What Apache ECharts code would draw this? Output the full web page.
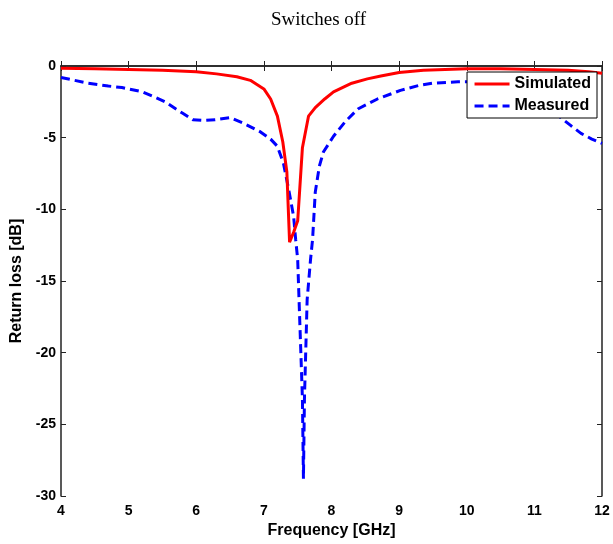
<!DOCTYPE html>
<html>
<head>
<meta charset="utf-8">
<script src="https://cdn.jsdelivr.net/npm/echarts@6/dist/echarts.min.js"></script>
<style>
  html, body { margin: 0; padding: 0; background: #fff; }
  #chart { width: 613px; height: 544px; }
</style>
</head>
<body>
<div id="chart"></div>
<script>
// Return loss of the antenna with the switches off: simulation vs. measurement
const simFreq = [4.0, 4.5, 5.0, 5.5, 6.0, 6.3, 6.6, 6.8, 7.0, 7.1, 7.2, 7.28, 7.34, 7.38, 7.44, 7.5,
  7.57, 7.66, 7.76, 7.9, 8.03, 8.3, 8.53, 8.73, 9.0, 9.36, 10.0, 10.5, 11.0, 11.5, 11.8, 12.0];
const simLoss = [-0.15, -0.2, -0.25, -0.3, -0.4, -0.55, -0.75, -1.0, -1.6, -2.3, -3.5, -5.3, -7.4, -12.3, -11.6, -10.8,
  -5.7, -3.5, -2.9, -2.3, -1.8, -1.2, -0.9, -0.7, -0.45, -0.3, -0.2, -0.2, -0.25, -0.3, -0.4, -0.5];

const measFreq = [4.0, 4.2, 4.4, 4.7, 4.9, 5.2, 5.4, 5.54, 5.7, 5.8, 5.95, 6.1, 6.28, 6.5, 6.7, 6.95,
  7.1, 7.2, 7.29, 7.37, 7.44, 7.47, 7.5, 7.52, 7.57, 7.585, 7.6, 7.64, 7.69, 7.72, 7.76, 7.82,
  7.88, 8.03, 8.2, 8.39, 8.68, 9.02, 9.3, 9.5, 9.87, 10.2, 10.6, 11.0, 11.2, 11.39, 11.55, 11.69,
  11.85, 12.0];
const measLoss = [-0.8, -1.0, -1.2, -1.4, -1.5, -1.8, -2.2, -2.5, -3.0, -3.3, -3.75, -3.8, -3.75, -3.6, -4.0, -4.6,
  -5.1, -5.6, -6.8, -8.7, -10.5, -12.1, -13.5, -16.3, -23.2, -28.8, -23.2, -16.3, -13.5, -12.1, -8.8, -7.0,
  -6.0, -4.9, -3.9, -3.0, -2.3, -1.7, -1.35, -1.2, -1.1, -1.1, -1.3, -2.0, -2.7, -3.6, -4.2, -4.7,
  -5.1, -5.4];

const seriesNames = ['Simulated', 'Measured'];
const xTicks = { min: 4, max: 12, step: 1 };
const yTicks = { min: -30, max: 0, step: 5 };

const pairs = (xs, ys) => xs.map((x, i) => [x, ys[i]]);

const sans = '"Liberation Sans", Arial, Helvetica, sans-serif';
const frame = { show: true, lineStyle: { color: '#222', width: 1.5 } };
const tick = { show: true, inside: true, length: 5, lineStyle: { color: '#222', width: 1 } };

const chart = echarts.init(document.getElementById('chart'), null, { renderer: 'canvas' });

chart.setOption({
  backgroundColor: '#fff',
  animation: false,
  title: {
    text: 'Switches off',
    left: 266,
    top: 6,
    textStyle: { fontFamily: '"Liberation Serif", "Times New Roman", serif', fontSize: 19, fontWeight: 'normal', color: '#000' }
  },
  grid: { left: 61, right: 11, top: 66, bottom: 47, containLabel: false },
  legend: {
    data: seriesNames,
    orient: 'vertical',
    right: 16,
    top: 72,
    itemWidth: 35,
    itemHeight: 14,
    itemGap: 6,
    padding: [4, 6, 4, 6],
    backgroundColor: '#fff',
    borderColor: '#000',
    borderWidth: 1,
    borderRadius: 0,
    // only the line sample is shown, no marker in the middle
    itemStyle: { color: 'rgba(0,0,0,0)', borderColor: 'rgba(0,0,0,0)', borderWidth: 0 },
    lineStyle: { width: 3 },
    textStyle: { fontFamily: sans, fontSize: 16, fontWeight: 'bold', color: '#000' }
  },
  xAxis: [
    {
      type: 'value', position: 'bottom',
      min: xTicks.min, max: xTicks.max, interval: xTicks.step,
      name: 'Frequency [GHz]', nameLocation: 'middle', nameGap: 27,
      nameTextStyle: { fontFamily: sans, fontSize: 16, fontWeight: 'bold', color: '#000' },
      axisLine: frame, axisTick: tick,
      axisLabel: { fontFamily: sans, fontSize: 14, fontWeight: 'bold', color: '#000', margin: 8 },
      splitLine: { show: false }
    },
    {
      type: 'value', position: 'top',
      min: xTicks.min, max: xTicks.max, interval: xTicks.step,
      axisLine: frame, axisTick: tick, axisLabel: { show: false }, splitLine: { show: false }
    }
  ],
  yAxis: [
    {
      type: 'value', position: 'left',
      min: yTicks.min, max: yTicks.max, interval: yTicks.step,
      name: 'Return loss [dB]', nameLocation: 'middle', nameGap: 31, nameRotate: 90,
      nameTextStyle: { fontFamily: sans, fontSize: 16, fontWeight: 'bold', color: '#000' },
      axisLine: frame, axisTick: tick,
      axisLabel: { fontFamily: sans, fontSize: 14, fontWeight: 'bold', color: '#000', margin: 5 },
      splitLine: { show: false }
    },
    {
      type: 'value', position: 'right',
      min: yTicks.min, max: yTicks.max, interval: yTicks.step,
      axisLine: frame, axisTick: tick, axisLabel: { show: false }, splitLine: { show: false }
    }
  ],
  series: [
    {
      name: seriesNames[0], type: 'line', xAxisIndex: 0, yAxisIndex: 0,
      data: pairs(simFreq, simLoss),
      symbol: 'none', showSymbol: false, smooth: false,
      color: '#ff0000',
      lineStyle: { color: '#ff0000', width: 3 },
      z: 3
    },
    {
      name: seriesNames[1], type: 'line', xAxisIndex: 0, yAxisIndex: 0,
      data: pairs(measFreq, measLoss),
      symbol: 'none', showSymbol: false, smooth: false,
      color: '#0000ff',
      lineStyle: { color: '#0000ff', width: 3, type: [9, 5] },
      z: 2
    }
  ]
});
</script>
</body>
</html>
